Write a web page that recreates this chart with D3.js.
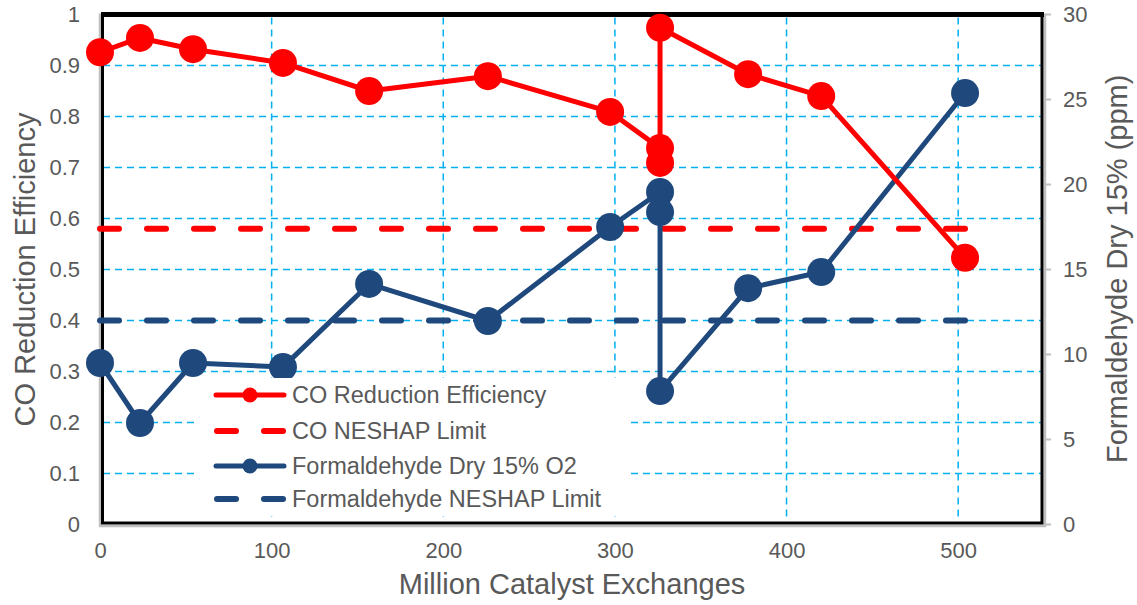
<!DOCTYPE html>
<html>
<head>
<meta charset="utf-8">
<script src="https://cdn.jsdelivr.net/npm/d3@7"></script>
<style>
  body { margin: 0; background: #fff; }
  svg { display: block; font-family: "Liberation Sans", Arial, sans-serif; }
</style>
</head>
<body>
<svg id="chart" width="1137" height="605"></svg>
<script>
// data
const exchanges = [0, 23.3, 54.2, 106.6, 156.8, 226, 297.2, 326.3, 326.3, 326.3, 377.6, 420.2, 504];
const coEfficiency = [0.926, 0.954, 0.932, 0.905, 0.850, 0.879, 0.809, 0.738, 0.709, 0.974, 0.883, 0.840, 0.523];
const formaldehyde = [9.5, 5.97, 9.5, 9.26, 14.15, 11.97, 17.5, 19.56, 18.38, 7.85, 13.9, 14.85, 25.38];
const coLimit = 0.58;
const formLimit = 12;
const limitRange = [0, 504];
const xTicks = [0, 100, 200, 300, 400, 500];
const leftTicks = [0, 0.1, 0.2, 0.3, 0.4, 0.5, 0.6, 0.7, 0.8, 0.9, 1];
const rightTicks = [0, 5, 10, 15, 20, 25, 30];
const legendItems = [
  { label: "CO Reduction Efficiency", color: "#ff0000", dashed: false },
  { label: "CO NESHAP Limit", color: "#ff0000", dashed: true },
  { label: "Formaldehyde Dry 15% O2", color: "#1f497d", dashed: false },
  { label: "Formaldehyde NESHAP Limit", color: "#1f497d", dashed: true }
];

const RED = "#ff0000", BLUE = "#1f497d", GRID = "#00b0f0", TEXT = "#595959";

const svg = d3.select("#chart");
const pLeft = 100, pRight = 1044, pTop = 14.5, pBottom = 524.5;

const x = d3.scaleLinear().domain([0, 550]).range([pLeft, pRight]);
const yL = d3.scaleLinear().domain([0, 1]).range([pBottom, pTop]);
const yR = d3.scaleLinear().domain([0, 30]).range([pBottom, pTop]);

// gridlines
const grid = svg.append("g");
grid.selectAll("line.h")
  .data(leftTicks.filter(d => d > 0 && d < 1))
  .join("line")
  .attr("x1", pLeft + 3).attr("x2", pRight - 3)
  .attr("y1", d => yL(d)).attr("y2", d => yL(d))
  .attr("stroke", GRID).attr("stroke-width", 1.5)
  .attr("stroke-dasharray", "7,5");
grid.selectAll("line.v")
  .data(xTicks.filter(d => d > 0))
  .join("line")
  .attr("x1", d => x(d)).attr("x2", d => x(d))
  .attr("y1", pTop + 3).attr("y2", pBottom - 3)
  .attr("stroke", GRID).attr("stroke-width", 1.5)
  .attr("stroke-dasharray", "7,5");

// frame: gray axis lines + black plot border
svg.append("path")
  .attr("d", `M${pLeft},${pTop - 1} L${pLeft},${pBottom + 1.5} L${pRight + 1},${pBottom + 1.5} L${pRight + 1},${pTop - 1}`)
  .attr("fill", "none").attr("stroke", "#bfbfbf").attr("stroke-width", 2.5);
svg.append("rect")
  .attr("x", pLeft + 2.5).attr("y", pTop + 0.5)
  .attr("width", pRight - pLeft - 4.5).attr("height", pBottom - pTop - 2)
  .attr("fill", "none").attr("stroke", "#000").attr("stroke-width", 3);
svg.append("line")
  .attr("x1", pLeft + 1).attr("x2", pRight)
  .attr("y1", pTop).attr("y2", pTop)
  .attr("stroke", "#000").attr("stroke-width", 5);

// right axis tick marks
svg.append("g").selectAll("line")
  .data(rightTicks)
  .join("line")
  .attr("x1", pRight + 1).attr("x2", pRight + 7)
  .attr("y1", d => yR(d)).attr("y2", d => yR(d))
  .attr("stroke", "#bfbfbf").attr("stroke-width", 2);

// axes (labels only)
const leftAxis = svg.append("g")
  .attr("transform", `translate(${pLeft - 20},0)`)
  .call(d3.axisLeft(yL).tickValues(leftTicks).tickSize(0).tickPadding(0)
    .tickFormat(d => (d === 0 || d === 1) ? String(d) : d3.format(".1f")(d)));
const rightAxis = svg.append("g")
  .attr("transform", `translate(${pRight + 19},0)`)
  .call(d3.axisRight(yR).tickValues(rightTicks).tickSize(0).tickPadding(0));
const bottomAxis = svg.append("g")
  .attr("transform", `translate(0,${pBottom + 17})`)
  .call(d3.axisBottom(x).tickValues(xTicks).tickSize(0).tickPadding(0));
[leftAxis, rightAxis, bottomAxis].forEach(g => {
  g.select(".domain").remove();
  g.selectAll("text")
    .attr("fill", TEXT)
    .style("font-family", '"Liberation Sans", Arial, sans-serif')
    .style("font-size", "22px");
});
bottomAxis.selectAll("text").attr("dy", "0.75em");

// axis titles
svg.append("text")
  .attr("x", (pLeft + pRight) / 2).attr("y", 594)
  .attr("text-anchor", "middle").attr("fill", TEXT)
  .style("font-size", "29px")
  .text("Million Catalyst Exchanges");
svg.append("text")
  .attr("transform", `translate(35,${(pTop + pBottom) / 2}) rotate(-90)`)
  .attr("text-anchor", "middle").attr("fill", TEXT)
  .style("font-size", "29px")
  .text("CO Reduction Efficiency");
svg.append("text")
  .attr("transform", `translate(1127,463) rotate(-90)`)
  .attr("text-anchor", "start").attr("fill", TEXT)
  .style("font-size", "29px")
  .text("Formaldehyde Dry 15% (ppm)");

// limit lines
svg.append("line")
  .attr("x1", x(limitRange[0])).attr("x2", x(limitRange[1]))
  .attr("y1", yL(coLimit)).attr("y2", yL(coLimit))
  .attr("stroke", RED).attr("stroke-width", 6)
  .attr("stroke-linecap", "round").attr("stroke-dasharray", "19,28");
svg.append("line")
  .attr("x1", x(limitRange[0])).attr("x2", x(limitRange[1]))
  .attr("y1", yR(formLimit)).attr("y2", yR(formLimit))
  .attr("stroke", BLUE).attr("stroke-width", 6)
  .attr("stroke-linecap", "round").attr("stroke-dasharray", "19,28");

// series
const coPts = exchanges.map((e, i) => [x(e), yL(coEfficiency[i])]);
const fPts = exchanges.map((e, i) => [x(e), yR(formaldehyde[i])]);
const line = d3.line();

function drawSeries(pts, color) {
  svg.append("path")
    .attr("d", line(pts))
    .attr("fill", "none").attr("stroke", color)
    .attr("stroke-width", 5).attr("stroke-linejoin", "round");
  svg.append("g").selectAll("circle")
    .data(pts)
    .join("circle")
    .attr("cx", d => d[0]).attr("cy", d => d[1])
    .attr("r", 14).attr("fill", color);
}
drawSeries(fPts, BLUE);
drawSeries(coPts, RED);

// legend
const legend = svg.append("g");
legend.append("rect")
  .attr("x", 197).attr("y", 378).attr("width", 433).attr("height", 138)
  .attr("fill", "#fff");
const rowY = [395, 431, 466, 499];
legendItems.forEach((item, i) => {
  const g = legend.append("g").attr("transform", `translate(0,${rowY[i]})`);
  if (item.dashed) {
    [[214, 239], [261, 286]].forEach(([a, b]) => {
      g.append("line").attr("x1", a + 3).attr("x2", b - 3)
        .attr("stroke", item.color).attr("stroke-width", 6)
        .attr("stroke-linecap", "round");
    });
  } else {
    g.append("line").attr("x1", 216).attr("x2", 284)
      .attr("stroke", item.color).attr("stroke-width", 5)
      .attr("stroke-linecap", "round");
    g.append("circle").attr("cx", 250).attr("r", 7.5).attr("fill", item.color);
  }
  g.append("text")
    .attr("x", 292).attr("dy", "0.35em")
    .attr("fill", TEXT).style("font-size", "23.5px")
    .text(item.label);
});
</script>
</body>
</html>
